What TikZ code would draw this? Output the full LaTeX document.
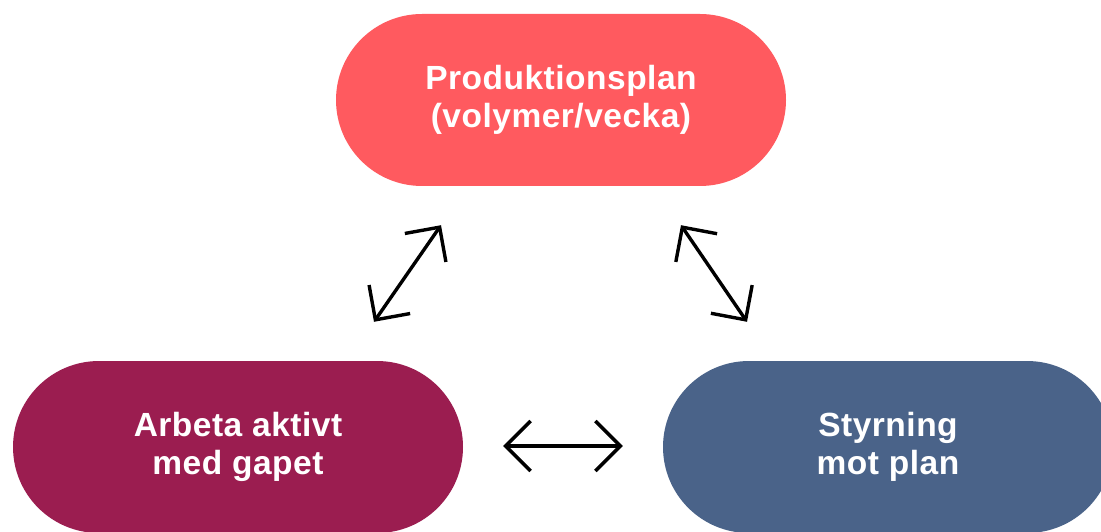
\documentclass[tikz,border=0pt]{standalone}
\usepackage{fontspec}
\setmainfont{Liberation Sans}
\newfontfamily\lblfont[LetterSpace=1.5]{Liberation Sans}
\usepackage{tikz}
\usetikzlibrary{arrows.meta,positioning,calc}
\usepackage{xcolor}
\definecolor{planred}{RGB}{255,90,95}
\definecolor{gapwine}{RGB}{155,29,80}
\definecolor{styrblue}{RGB}{74,99,137}
\tikzset{
  pill/.style={rounded corners=86pt, minimum width=450pt, minimum height=172pt,
               align=center, text=white, inner sep=0pt,
               font=\lblfont\fontsize{33.5}{38}\selectfont\bfseries},
  link/.style={{Straight Barb[length=25pt,width=50pt]}-{Straight Barb[length=25pt,width=50pt]},
               line width=3.4pt, black},
}

\begin{document}
\begin{tikzpicture}[x=1pt, y=1pt]
  \useasboundingbox (0,0) rectangle (1101,531);
  \clip (0,0) rectangle (1101,531);
  % Produktionsplan
  \node[pill, fill=planred] (plan) at (561,431) {Produktionsplan\\(volymer/vecka)};
  % Arbeta aktivt
  \node[pill, fill=gapwine] (gap) at (238,84) {Arbeta aktivt\\med gapet};
  % Styrning
  \node[pill, fill=styrblue] (styr) at (888,84) {Styrning\\mot plan};

  % Arrow end points
  \coordinate (planL) at ($(plan.south)+(-120,-39)$);
  \coordinate (planR) at ($(plan.south)+(120,-39)$);
  \coordinate (gapN)  at ($(gap.north)+(136,39)$);
  \coordinate (styrN) at ($(styr.north)+(-141,39)$);
  \coordinate (gapE)  at ($(gap.east)+(40,1)$);
  \coordinate (styrW) at ($(styr.west)+(-40,1)$);

  % Double arrows
  \draw[link] (gapN) -- (planL);
  \draw[link] (planR) -- (styrN);
  \draw[link] (gapE) -- (styrW);
\end{tikzpicture}
\end{document}
